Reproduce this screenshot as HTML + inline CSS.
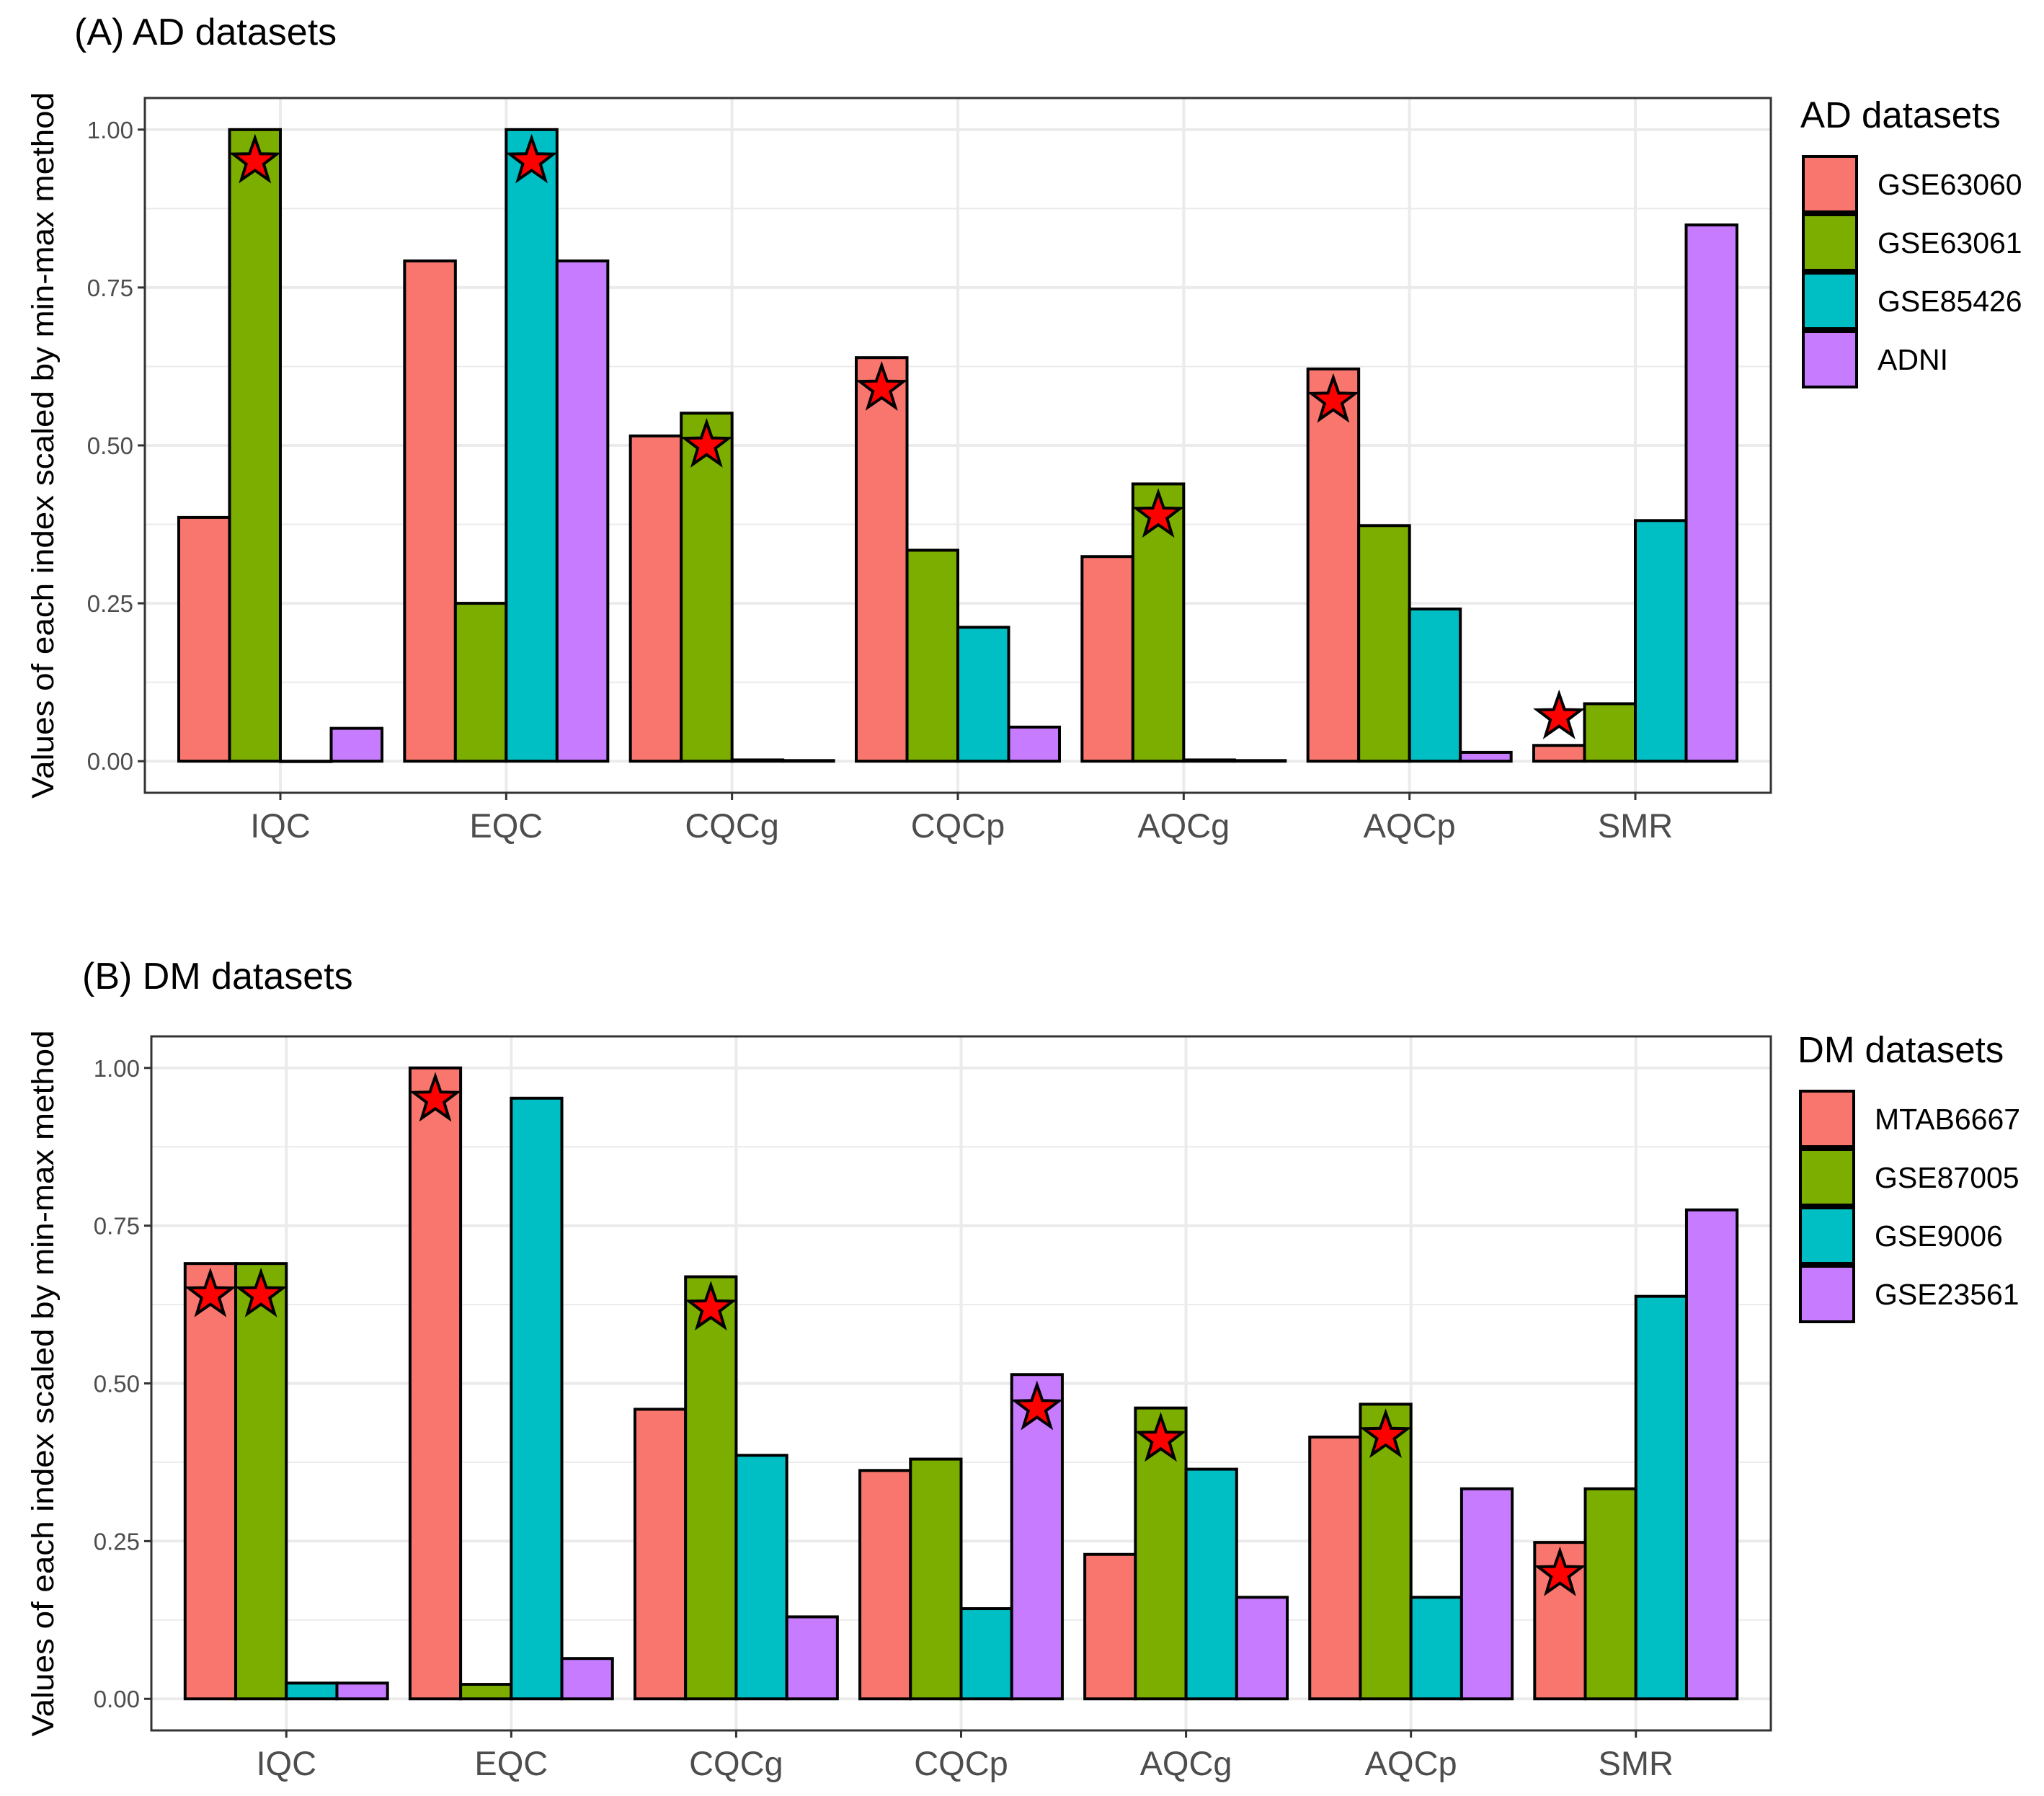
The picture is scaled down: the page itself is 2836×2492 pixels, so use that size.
<!DOCTYPE html>
<html><head><meta charset="utf-8"><style>
html,body{margin:0;padding:0;background:#fff}
svg{display:block}
text{font-family:"Liberation Sans",Arial,sans-serif}
</style></head><body>
<svg id="chart" width="2836" height="2492" xmlns="http://www.w3.org/2000/svg"></svg>
<script>
const categories = ["IQC","EQC","CQCg","CQCp","AQCg","AQCp","SMR"];
const yTicks = [0,0.25,0.5,0.75,1.0];
const yTickLabels = ["0.00","0.25","0.50","0.75","1.00"];
const colors = ["#F8766D","#7CAE00","#00BFC4","#C77CFF"];

const adNames = ["GSE63060","GSE63061","GSE85426","ADNI"];
const adGSE63060 = [0.386,0.792,0.515,0.639,0.324,0.621,0.025];
const adGSE63061 = [1.0,0.25,0.551,0.334,0.439,0.373,0.091];
const adGSE85426 = [0.0,1.0,0.002,0.212,0.002,0.241,0.381];
const adADNI = [0.052,0.792,0.001,0.054,0.001,0.014,0.849];
const adStarCat = [0,1,2,3,4,5,6];
const adStarSeries = [1,2,1,0,1,0,0];
const adStarY = [0.95,0.95,0.50,0.59,0.389,0.571,0.07];

const dmNames = ["MTAB6667","GSE87005","GSE9006","GSE23561"];
const dmMTAB6667 = [0.690,1.0,0.459,0.362,0.229,0.415,0.248];
const dmGSE87005 = [0.690,0.023,0.669,0.380,0.461,0.467,0.333];
const dmGSE9006 = [0.025,0.952,0.386,0.143,0.364,0.161,0.638];
const dmGSE23561 = [0.025,0.064,0.130,0.514,0.161,0.333,0.775];
const dmStarCat = [0,0,1,2,3,4,5,6];
const dmStarSeries = [0,1,0,1,3,1,1,0];
const dmStarY = [0.64,0.64,0.95,0.619,0.461,0.411,0.417,0.198];

const NS="http://www.w3.org/2000/svg";
const svg=document.getElementById('chart');
function mk(tag,attrs,parent){const e=document.createElementNS(NS,tag);for(const k in attrs)e.setAttribute(k,attrs[k]);(parent||svg).appendChild(e);return e;}

function starPath(cx,cy,R){const r=R*0.4;let d="";for(let i=0;i<10;i++){const a=-Math.PI/2+i*Math.PI/5;const rr=i%2?r:R;d+=(i?"L":"M")+(cx+rr*Math.cos(a)).toFixed(1)+","+(cy+rr*Math.sin(a)).toFixed(1);}return d+"Z";}

function panel(o){
  const g=mk('g',{});
  
  
  const L=o.x0,R=o.x1,T=o.y0,B=o.y1,H=B-T;
  const ys=v=>B-H*0.05/1.1-v*H/1.1;
  const unit=(R-L)/7.2;
  const xs=i=>L+(i+0.6)*unit;
  const t=mk('text',{x:o.tx,y:o.ty,'font-size':52,fill:'#000'},g);t.textContent=o.title;
  
  for(let i=0;i<4;i++){const v=0.125+i*0.25;const l=mk('line',{x1:L,x2:R,y1:ys(v),y2:ys(v),stroke:'#EBEBEB','stroke-width':2},g);
    }
  yTicks.forEach((v,i)=>{const l=mk('line',{x1:L,x2:R,y1:ys(v),y2:ys(v),stroke:'#EBEBEB','stroke-width':4},g);
    
    const tk=mk('line',{x1:L-10,x2:L,y1:ys(v),y2:ys(v),stroke:'#333','stroke-width':3},g);
    
    const tl=mk('text',{x:L-16,y:ys(v)+12,'font-size':33,fill:'#4D4D4D','text-anchor':'end'},g);tl.textContent=yTickLabels[i];
    });
  categories.forEach((c,i)=>{const l=mk('line',{x1:xs(i),x2:xs(i),y1:T,y2:B,stroke:'#EBEBEB','stroke-width':4},g);
    
    const tk=mk('line',{x1:xs(i),x2:xs(i),y1:B,y2:B+10,stroke:'#333','stroke-width':3},g);
    
    const tl=mk('text',{x:xs(i),y:B+62,'font-size':47,fill:'#4D4D4D','text-anchor':'middle'},g);tl.textContent=c;
    });
  const bw=unit*0.9/4;
  o.series.forEach((arr,s)=>{arr.forEach((v,i)=>{
    const x=xs(i)-unit*0.45+s*bw;
    const r=mk('rect',{x:x,y:ys(v),width:bw,height:Math.max(ys(0)-ys(v),0.5),fill:colors[s],stroke:'#000','stroke-width':4},g);
    
    });});
  o.starCat.forEach((ci,k)=>{const x=xs(ci)-unit*0.45+(o.starSeries[k]+0.5)*bw;
    const p=mk('path',{d:starPath(x,ys(o.starY[k]),32),fill:'#FF0000',stroke:'#000','stroke-width':4,'stroke-linejoin':'miter'},g);
    });
  const bd=mk('rect',{x:L,y:T,width:R-L,height:H,fill:'none',stroke:'#333','stroke-width':3},g);
  
  const yc=(T+B)/2;
  const yt=mk('text',{x:0,y:0,'font-size':43,fill:'#000','text-anchor':'middle',transform:`translate(${o.ytx},${yc}) rotate(-90)`,textLength:980,lengthAdjust:'spacingAndGlyphs'},g);
  yt.textContent="Values of each index scaled by min-max method";
  
  const lg=mk('g',{},g);
  const lt=mk('text',{x:o.lx-4,y:o.ly-38,'font-size':51,fill:'#000'},lg);lt.textContent=o.legendTitle;
  
  o.names.forEach((n,s)=>{const y=o.ly+s*81;
    const r=mk('rect',{x:o.lx,y:y+2,width:74,height:77,fill:colors[s],stroke:'#000','stroke-width':4},lg);
    
    const tx=mk('text',{x:o.lx+103,y:y+55,'font-size':41,fill:'#000'},lg);tx.textContent=n;
    });
}
panel({key:'ad',title:'(A) AD datasets',tx:103,ty:62,x0:201,x1:2457,y0:136,y1:1100,ytx:74,
  series:[adGSE63060,adGSE63061,adGSE85426,adADNI],names:adNames,starCat:adStarCat,starSeries:adStarSeries,starY:adStarY,
  legendTitle:'AD datasets',lx:2502,ly:215});
panel({key:'dm',title:'(B) DM datasets',tx:114,ty:1372,x0:210,x1:2457,y0:1438,y1:2401,ytx:74,
  series:[dmMTAB6667,dmGSE87005,dmGSE9006,dmGSE23561],names:dmNames,starCat:dmStarCat,starSeries:dmStarSeries,starY:dmStarY,
  legendTitle:'DM datasets',lx:2498,ly:1512});
</script>
</body></html>
